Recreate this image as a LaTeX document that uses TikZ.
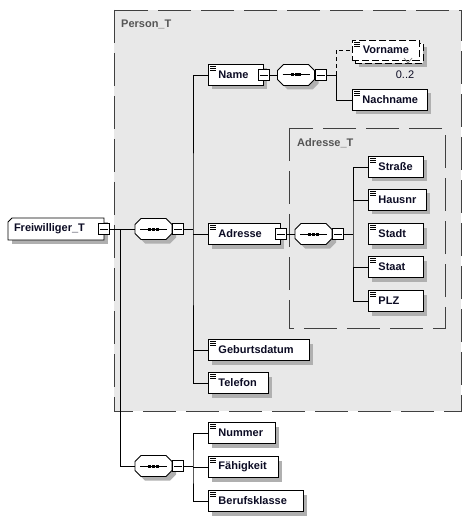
\documentclass[tikz,border=0pt]{standalone}
\usepackage{fontspec}
\setmainfont{Liberation Sans}
\definecolor{bgray}{HTML}{E8E8E8}
\definecolor{shadowcol}{HTML}{B0B0B0}
\definecolor{bdgray}{HTML}{404040}
\definecolor{txt}{HTML}{0C0C24}
\definecolor{lblgray}{HTML}{555555}
\definecolor{tickgray}{HTML}{808080}
\tikzset{
  x=1pt, y=-1pt,
  conn/.style={line width=0.9pt, draw=black},
  optconn/.style={conn, dash pattern=on 4pt off 3pt},
  region/.style={fill=bgray, draw=bdgray, line width=0.9pt, dash pattern=on 33pt off 10pt},
  regionlabel/.style={anchor=west, inner sep=0pt, font=\fontsize{11}{13}\selectfont\bfseries, text=lblgray},
  icon/.style={path picture={
      \foreach \k in {2,4,6}{\draw[line width=0.6pt,black,solid] ([xshift=2pt,yshift=-\k pt]path picture bounding box.north west) -- ++(6pt,0pt);}}},
  elemw/.code={\pgfmathsetmacro\elemtw{#1-20}\tikzset{minimum width=#1pt, text width/.expanded=\elemtw pt}},
  elem/.style={draw=black, fill=white, line width=0.9pt, rectangle, anchor=west,
      minimum height=21pt, inner sep=0pt, font=\fontsize{11}{13}\selectfont\bfseries, text=txt, align=left,
      icon, elemw=#1},
  optbox/.style={draw=black, fill=white, line width=0.9pt, dash pattern=on 7pt off 3pt, rectangle, anchor=west,
      minimum height=20pt, minimum width=#1pt, inner sep=0pt},
  minusbox/.style={draw=black, fill=white, line width=0.8pt, rectangle, minimum size=11pt, inner sep=0pt,
      path picture={\draw[line width=0.8pt] ([xshift=1.5pt]path picture bounding box.west) -- ([xshift=-1.5pt]path picture bounding box.east);}},
  seqbox/.style={rectangle, minimum width=37pt, minimum height=21pt, inner sep=0pt},
  shapeline/.style={fill=white, draw=black, line width=0.8pt},
  shadowfill/.style={fill=shadowcol, draw=none},
  ctype/.style={rectangle, minimum width=96pt, minimum height=22pt, inner sep=0pt,
      text width=84pt, align=left, font=\fontsize{11}{13}\selectfont\bfseries, text=txt},
  occ/.style={inner sep=0pt, font=\fontsize{11}{13}\selectfont, text=txt}
}
% octagon around centre (#1,#2)
\newcommand\octat[2]{(#1-12.5,#2-10.5) -- (#1+12.5,#2-10.5) -- (#1+18.5,#2-4.5) -- (#1+18.5,#2+4.5) -- (#1+12.5,#2+10.5) -- (#1-12.5,#2+10.5) -- (#1-18.5,#2+4.5) -- (#1-18.5,#2-4.5) -- cycle}
% sequence compositor: name, x, y
\newcommand\seqat[3]{%
  \path[shadowfill] \octat{#2+4}{#3+4};
  \path[shapeline] \octat{#2}{#3};
  \node[seqbox] (#1) at (#2,#3) {};
  \draw[line width=1pt] (#2-13.5,#3) -- (#2+13.5,#3);
  \foreach \dd in {-3.6,0,3.6}{\fill[black] (#2+\dd-1.5,#3-1.5) rectangle (#2+\dd+1.5,#3+1.5);}
  \node[minusbox, anchor=west] (#1M) at (#1.east) {};}
% element: name, x (left), y (centre), width, text
\newcommand\elemat[5]{%
  \path[shadowfill] (#2+4,#3-10.5+4) rectangle (#2+#4+4,#3+10.5+4);
  \node[elem=#4] (#1) at (#2,#3) {#5};}
\begin{document}
\begin{tikzpicture}
\useasboundingbox (0,0) rectangle (472,518);
% regions
\path[region] (114,10) rectangle (461,411);
\path[region] (289,128) rectangle (445,328);
\node[regionlabel] (personlbl) at (121,24) {Person\_T};
\node[regionlabel] (adrlbl) at (297,143) {Adresse\_T};

% root
\path[shadowfill] (12,218+4) -- (108,222) -- (108,244) -- (12,244) -- cycle;
\path[shapeline, line width=0.9pt] (12,218) -- (104,218) -- (104,240) -- (8,240) -- (8,222) -- cycle;
\node[ctype] (frei) at (56,229) {Freiwilliger\_T};
\node[minusbox] (freiM) at (frei.east) {};

% sequences
\seqat{seq1}{153.5}{229}
\seqat{seq3}{153.5}{466}

% Person_T content
\elemat{name}{208}{75}{55}{Name}
\node[minusbox] (nameM) at (name.east) {};
\elemat{adresse}{208}{234}{72}{Adresse}
\node[minusbox] (adresseM) at (adresse.east) {};
\elemat{geburtsdatum}{208}{350}{101}{Geburtsdatum}
\elemat{telefon}{208}{383}{60}{Telefon}

\seqat{nseq}{296}{75}
\path[shadowfill] (359,47) rectangle (427,67);
\node[optbox=68] (vornameB) at (355,53) {};
\node[optbox=67, icon, font=\fontsize{11}{13}\selectfont\bfseries, text=txt] (vorname) at (352,50) {\hspace*{0pt}Vorname};
\draw[tickgray, line width=0.7pt] (404,58) -- (408,63) -- (412,58);
\node[occ] (occ) at (405,75) {0..2};
\elemat{nachname}{352}{100}{75}{Nachname}

\seqat{aseq}{313.5}{234}
\elemat{strasse}{368}{167}{55}{Straße}
\elemat{hausnr}{368}{200}{58}{Hausnr}
\elemat{stadt}{368}{234}{55}{Stadt}
\elemat{staat}{368}{267}{55}{Staat}
\elemat{plz}{368}{301}{55}{PLZ}

% second group
\elemat{nummer}{208}{433}{67}{Nummer}
\elemat{faehigkeit}{208}{467}{70}{Fähigkeit}
\elemat{berufsklasse}{208}{501}{95}{Berufsklasse}

% connectors
\coordinate (j0) at (120,229);
\coordinate (b1) at (193,229);
\coordinate (b2) at (336,75);
\coordinate (b3) at (353,234);
\coordinate (b4) at (193,466);
\draw[conn] (freiM.east) -- (seq1.west);
\draw[conn] (j0) |- (seq3.west);
\draw[conn] (seq1M.east) -- (b1);
\draw[conn] (name.west) -| (b1) |- (telefon.west);
\draw[conn] (adresse.west) -- (adresse.west -| b1);
\draw[conn] (geburtsdatum.west) -- (geburtsdatum.west -| b1);
\draw[conn] (nameM.east) -- (nseq.west);
\draw[conn] (nseqM.east) -- (b2) |- (nachname.west);
\draw[optconn] (b2) |- (vorname.west);
\draw[conn] (adresseM.east) -- (aseq.west);
\draw[conn] (aseqM.east) -- (b3);
\draw[conn] (strasse.west) -| (b3) |- (plz.west);
\draw[conn] (hausnr.west) -- (hausnr.west -| b3);
\draw[conn] (staat.west) -- (staat.west -| b3);
\draw[conn] (seq3M.east) -- (b4);
\draw[conn] (nummer.west) -| (b4) |- (berufsklasse.west);
\draw[conn] (faehigkeit.west) -- (faehigkeit.west -| b4);
\end{tikzpicture}
\end{document}
